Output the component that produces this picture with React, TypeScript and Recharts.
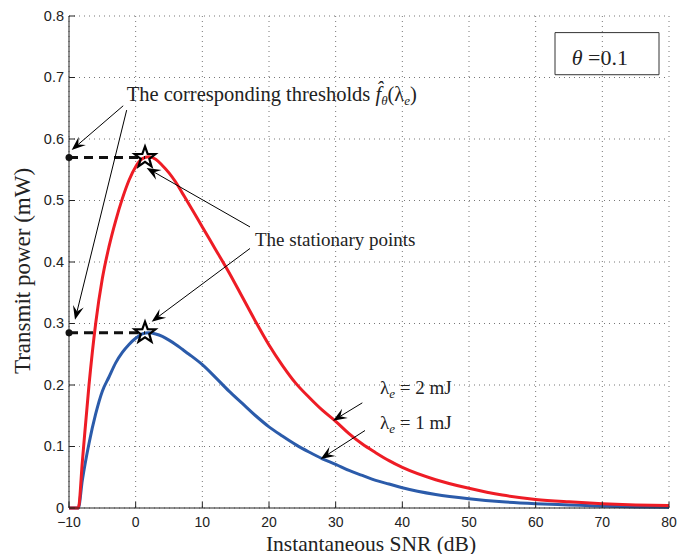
import React from 'react'
import {
  ComposedChart,
  Line,
  Scatter,
  XAxis,
  YAxis,
  CartesianGrid,
  ReferenceLine,
  ReferenceDot,
  ReferenceArea,
} from 'recharts'

// instantaneous SNR (dB)
const snr = [
  -10, -8.6, -8, -7, -6, -5, -4, -3, -2, -1, 0, 1, 2, 3, 4, 5, 6, 7, 8, 10, 12, 14, 16, 18, 20, 22,
  24, 26, 28, 30, 32, 34, 36, 38, 40, 45, 50, 55, 60, 65, 70, 75, 80,
]
// transmit power (mW), lambda_e = 2 mJ
const power2mJ = [
  0, 0, 0.075, 0.2, 0.3, 0.373, 0.425, 0.467, 0.503, 0.533, 0.555, 0.568, 0.571, 0.567, 0.557,
  0.545, 0.53, 0.512, 0.494, 0.457, 0.42, 0.383, 0.343, 0.303, 0.265, 0.232, 0.203, 0.18, 0.159,
  0.141, 0.121, 0.104, 0.09, 0.077, 0.066, 0.046, 0.032, 0.021, 0.014, 0.01, 0.007, 0.005, 0.004,
]
// transmit power (mW), lambda_e = 1 mJ
const power1mJ = [
  0, 0, 0.045, 0.105, 0.153, 0.19, 0.213, 0.236, 0.253, 0.266, 0.276, 0.283, 0.285, 0.283, 0.279,
  0.273, 0.266, 0.258, 0.25, 0.233, 0.212, 0.19, 0.17, 0.15, 0.132, 0.117, 0.103, 0.091, 0.08,
  0.071, 0.061, 0.053, 0.045, 0.039, 0.033, 0.022, 0.015, 0.01, 0.007, 0.005, 0.003, 0.0015, 0.001,
]
const stationaryX = [1.4, 1.4]
const stationaryY = [0.57, 0.285]

const xTicks = [-10, 0, 10, 20, 30, 40, 50, 60, 70, 80]
const yTicks = [0, 0.1, 0.2, 0.3, 0.4, 0.5, 0.6, 0.7, 0.8]

const data = snr.map((x, i) => ({ x, red: power2mJ[i], blue: power1mJ[i] }))
const stars = stationaryX.map((x, i) => ({ x, y: stationaryY[i] }))

const SERIF = '"Liberation Serif", "Times New Roman", serif'
const SANS = '"Liberation Sans", Arial, sans-serif'

const BottomTick = ({ x, y, payload }: any) => (
  <g>
    <line x1={x} y1={y} x2={x} y2={y - 6} stroke="#222" />
    <text x={x} y={y + 19} textAnchor="middle" fontFamily={SANS} fontSize={14} fill="#222">
      {payload.value < 0 ? '\u2212' + Math.abs(payload.value) : payload.value}
    </text>
  </g>
)
const TopTick = ({ x, y }: any) => <line x1={x} y1={y} x2={x} y2={y + 6} stroke="#222" />
const LeftTick = ({ x, y, payload }: any) => (
  <g>
    <line x1={x} y1={y} x2={x + 6} y2={y} stroke="#222" />
    <text x={x - 5} y={y + 4.5} textAnchor="end" fontFamily={SANS} fontSize={14.5} fill="#222">
      {payload.value}
    </text>
  </g>
)
const RightTick = ({ x, y }: any) => <line x1={x} y1={y} x2={x - 6} y2={y} stroke="#222" />

const arrow = (p: any) => {
  const { x1, y1, x2, y2 } = p
  const a = Math.atan2(y2 - y1, x2 - x1)
  const c = Math.cos(a)
  const s = Math.sin(a)
  const L = 14
  const W = 5.5
  const bx = x2 - L * c
  const by = y2 - L * s
  const nx = x2 - L * 0.62 * c
  const ny = y2 - L * 0.62 * s
  const pts = `${x2},${y2} ${bx - W * s},${by + W * c} ${nx},${ny} ${bx + W * s},${by - W * c}`
  return (
    <g>
      <line x1={x1} y1={y1} x2={nx} y2={ny} stroke="#000" strokeWidth={1} />
      <polygon points={pts} fill="#000" />
    </g>
  )
}

const star = (p: any) => {
  const { cx, cy } = p
  const pts: string[] = []
  for (let k = 0; k < 10; k++) {
    const r = k % 2 === 0 ? 11 : 4.5
    const a = -Math.PI / 2 + (k * Math.PI) / 5
    pts.push(`${cx + r * Math.cos(a)},${cy + r * Math.sin(a)}`)
  }
  return <polygon points={pts.join(' ')} fill="none" stroke="#000" strokeWidth={2.2} />
}

const note = (content: React.ReactNode, size = 19) => (p: any) => (
  <text x={p.cx} y={p.cy} fontFamily={SERIF} fontSize={size} fill="#222">
    {content}
  </text>
)

const thresholdText = (
  <>
    The corresponding thresholds{' '}
    <tspan fontStyle="italic">{'f\u0302'}</tspan>
    <tspan fontStyle="italic" fontSize={13} dy={4}>θ</tspan>
    <tspan dy={-4}>(λ</tspan>
    <tspan fontStyle="italic" fontSize={13} dy={4}>e</tspan>
    <tspan dy={-4}>)</tspan>
  </>
)
const lambdaText = (v: string) => (
  <>
    λ<tspan fontStyle="italic" fontSize={13} dy={4}>e</tspan>
    <tspan dy={-4}>{` = ${v} mJ`}</tspan>
  </>
)
const thetaText = (
  <>
    <tspan fontStyle="italic">θ</tspan> =0.1
  </>
)

export default function App() {
  return (
    <div style={{ position: 'absolute', left: 0, top: 0, background: '#fff' }}>
      <ComposedChart
        width={679}
        height={554}
        data={data}
        margin={{ top: 16, right: 10, bottom: 0, left: 0 }}
      >
        <CartesianGrid stroke="#777" strokeDasharray="1 4" />
        <XAxis
          dataKey="x"
          type="number"
          domain={[-10, 80]}
          ticks={xTicks}
          height={46}
          tickSize={0}
          tickMargin={0}
          tick={BottomTick}
          stroke="#222"
          label={(p: any) => (
            <text
              x={p.viewBox.x + p.viewBox.width / 2 + 2}
              y={p.viewBox.y + 42.5}
              textAnchor="middle"
              fontFamily={SERIF}
              fontSize={21.5}
              fill="#222"
            >
              Instantaneous SNR (dB)
            </text>
          )}
        />
        <XAxis
          xAxisId="top"
          orientation="top"
          dataKey="x"
          type="number"
          domain={[-10, 80]}
          ticks={xTicks}
          height={0}
          tickSize={0}
          tickMargin={0}
          tick={TopTick}
          stroke="#222"
        />
        <YAxis
          type="number"
          domain={[0, 0.8]}
          ticks={yTicks}
          width={69}
          tickSize={0}
          tickMargin={0}
          tick={LeftTick}
          stroke="#222"
          label={(p: any) => {
            const cy = p.viewBox.y + p.viewBox.height / 2 + 9
            return (
              <text
                x={30}
                y={cy}
                transform={`rotate(-90, 30, ${cy})`}
                textAnchor="middle"
                fontFamily={SERIF}
                fontSize={23}
                fill="#222"
              >
                Transmit power (mW)
              </text>
            )
          }}
        />
        <YAxis
          yAxisId="right"
          orientation="right"
          type="number"
          domain={[0, 0.8]}
          ticks={yTicks}
          width={0}
          tickSize={0}
          tickMargin={0}
          tick={RightTick}
          stroke="#222"
        />

        <ReferenceArea
          x1={62.9}
          x2={78.5}
          y1={0.7045}
          y2={0.773}
          fill="none"
          stroke="#333"
          strokeWidth={1}
        />
        <ReferenceDot x={65.4} y={0.7205} r={0} shape={note(thetaText, 22)} />

        <Line
          dataKey="blue"
          type="monotone"
          stroke="#2B5BAA"
          strokeWidth={3}
          dot={false}
          isAnimationActive={false}
        />
        <Line
          dataKey="red"
          type="monotone"
          stroke="#EE1C25"
          strokeWidth={3}
          dot={false}
          isAnimationActive={false}
        />

        {stars.map((s, i) => (
          <ReferenceLine
            key={'th' + i}
            segment={[
              { x: -10, y: s.y },
              { x: s.x, y: s.y },
            ]}
            stroke="#111"
            strokeWidth={3}
            strokeDasharray="9 6"
          />
        ))}
        {stars.map((s, i) => (
          <ReferenceDot key={'d' + i} x={-10} y={s.y} r={3.5} fill="#111" stroke="none" />
        ))}
        <Scatter data={stars} dataKey="y" shape={star} isAnimationActive={false} />

        <ReferenceLine segment={[{ x: -1.87, y: 0.654 }, { x: -9.6, y: 0.582 }]} shape={arrow} />
        <ReferenceLine segment={[{ x: -1.35, y: 0.647 }, { x: -9.1, y: 0.306 }]} shape={arrow} />
        <ReferenceLine segment={[{ x: 17.15, y: 0.457 }, { x: 1.65, y: 0.553 }]} shape={arrow} />
        <ReferenceLine segment={[{ x: 17.15, y: 0.422 }, { x: 2.4, y: 0.303 }]} shape={arrow} />
        <ReferenceLine segment={[{ x: 34.0, y: 0.171 }, { x: 29.6, y: 0.142 }]} shape={arrow} />
        <ReferenceLine segment={[{ x: 34.4, y: 0.126 }, { x: 27.75, y: 0.0797 }]} shape={arrow} />

        <ReferenceDot x={-1.35} y={0.6626} r={0} shape={note(thresholdText, 20.5)} />
        <ReferenceDot x={17.9} y={0.4265} r={0} shape={note('The stationary points')} />
        <ReferenceDot x={36.65} y={0.1854} r={0} shape={note(lambdaText('2'))} />
        <ReferenceDot x={36.65} y={0.1289} r={0} shape={note(lambdaText('1'))} />
      </ComposedChart>
    </div>
  )
}
